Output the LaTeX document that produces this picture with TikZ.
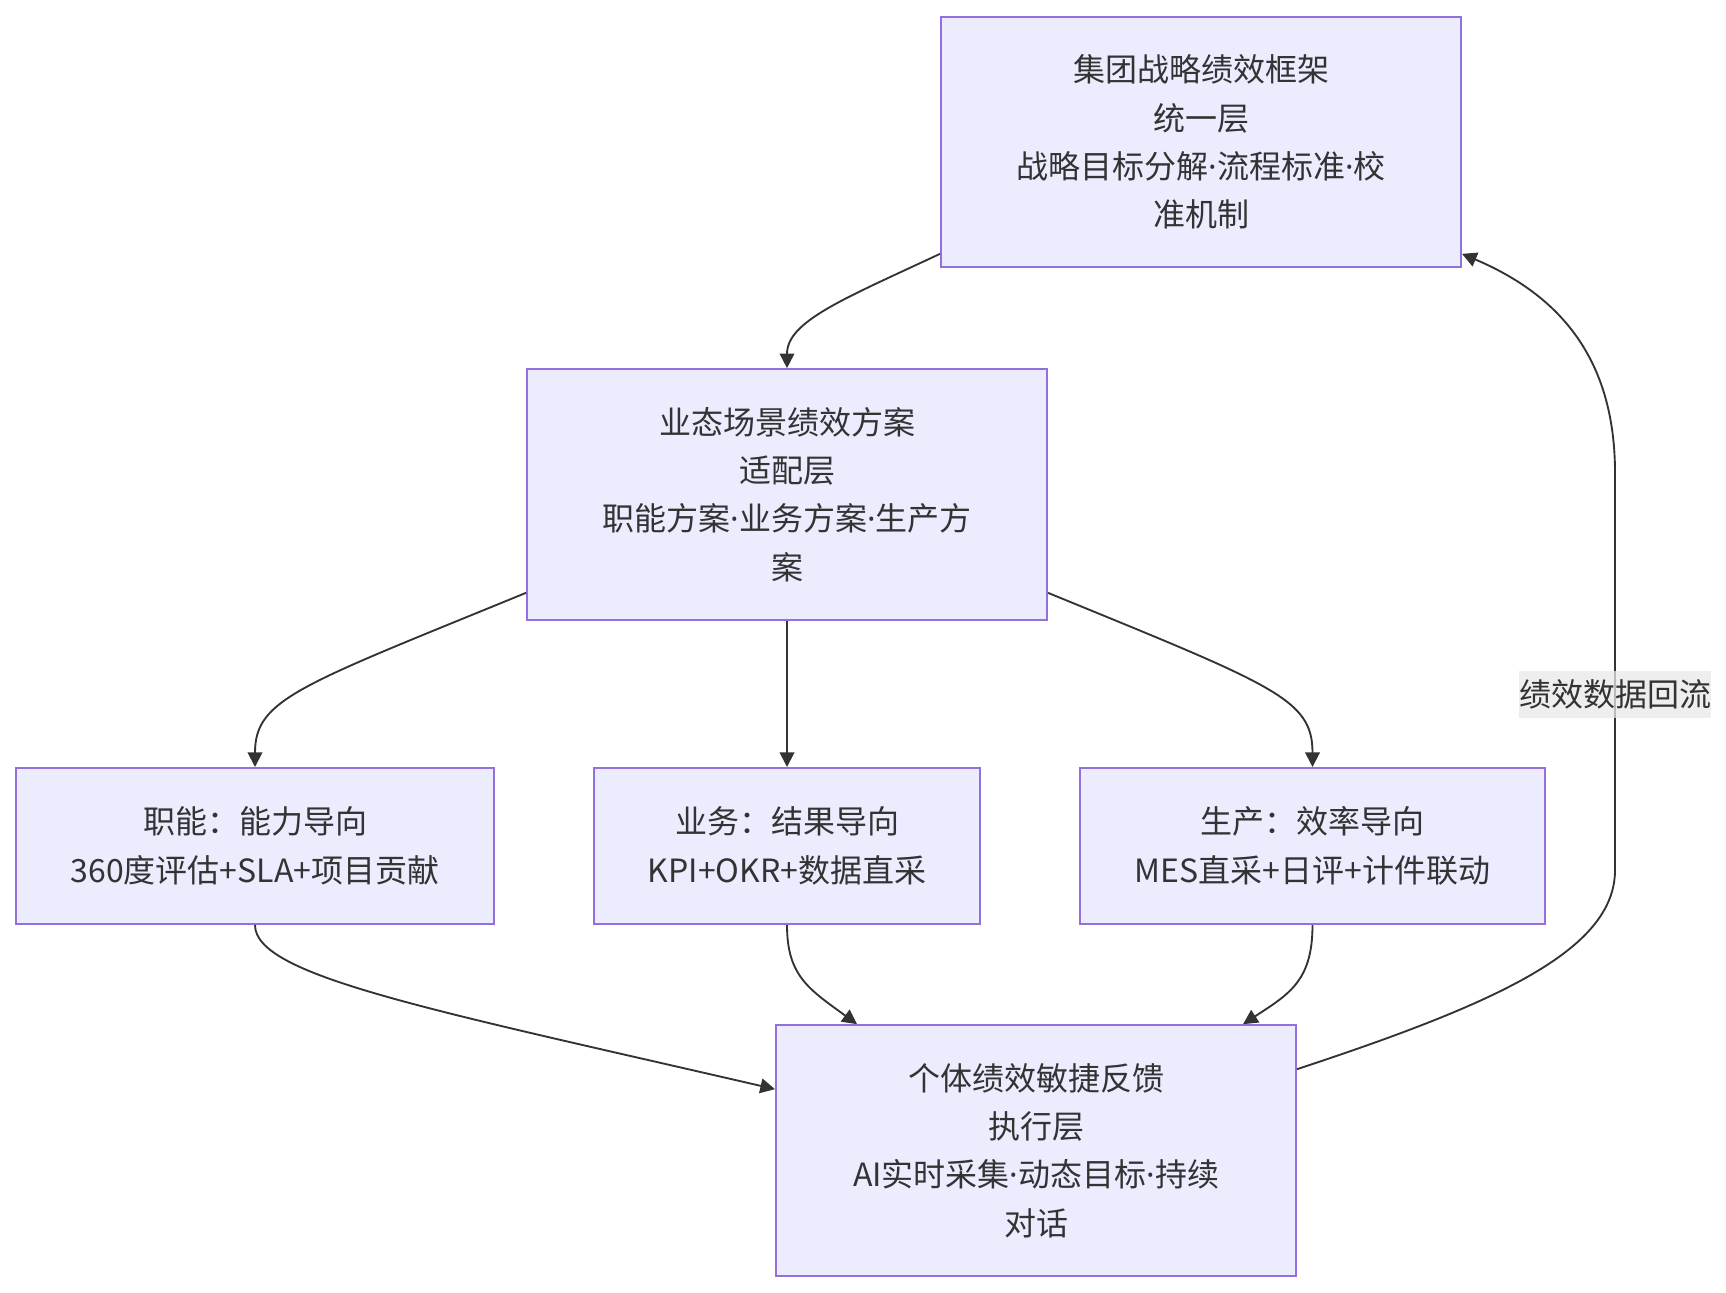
\documentclass[tikz,border=0pt]{standalone}
\usepackage{fontspec}
\newfontfamily\cjk{Noto Sans CJK SC}
\newfontfamily\dotfont{Noto Sans}
\newcommand{\mdot}{{\dotfont ·}}
\usetikzlibrary{arrows.meta,calc}
\definecolor{boxfill}{HTML}{ECECFF}
\definecolor{boxline}{HTML}{9370DB}
\definecolor{ink}{HTML}{333333}
\definecolor{lblbg}{HTML}{E8E8E8}
\begin{document}
\begin{tikzpicture}[x=0.75pt,y=-0.75pt,
  box/.style={draw=boxline,fill=boxfill,line width=1.5pt,inner sep=0pt,
    align=center,text=ink,font=\cjk\fontsize{24}{36.3}\selectfont},
  bigbox/.style={box,minimum width=390pt,minimum height=188pt},
  midbox/.style={box,minimum height=117pt},
  edge/.style={draw=ink,line width=1.4pt,-{Triangle[length=11pt,width=11pt]}},
  lbl/.style={fill=lblbg,fill opacity=0.75,text opacity=1,text=ink,inner xsep=0pt,
    minimum height=35pt,font=\cjk\fontsize{24}{30}\selectfont}]
\useasboundingbox (0,0) rectangle (1726,1292);

\node[bigbox] (top) at (1201,142) {集团战略绩效框架\\统一层\\战略目标分解\mdot 流程标准\mdot 校\\准机制};
\node[bigbox] (mid) at (787,494.5) {业态场景绩效方案\\适配层\\职能方案\mdot 业务方案\mdot 生产方\\案};
\node[midbox,minimum width=358pt] (lft) at (255,846) {职能：能力导向\\360度评估+SLA+项目贡献};
\node[midbox,minimum width=289.5pt] (ctr) at (787,846) {业务：结果导向\\KPI+OKR+数据直采};
\node[midbox,minimum width=349pt] (rgt) at (1312.5,846) {生产：效率导向\\MES直采+日评+计件联动};
\node[bigbox] (bot) at (1036,1150.5) {个体绩效敏捷反馈\\执行层\\AI实时采集\mdot 动态目标\mdot 持续\\对话};

\path[edge] ($(top.south west)+(0,-14.5)$) .. controls +(-96,45) and +(0,-47) .. (mid.north);
\path[edge] ($(mid.south west)+(0,-28)$) .. controls +(-227,93) and +(0,-68) .. (lft.north);
\path[edge] (mid.south) -- (ctr.north);
\path[edge] ($(mid.south east)+(0,-28)$) .. controls +(227,93) and +(0,-68) .. (rgt.north);
\path[edge] (lft.south) .. controls +(0,51) and +(-346,-80) .. ($(bot.north west)+(0,65)$);
\path[edge] (ctr.south) .. controls +(0,51) and +(-48,-35) .. ($(bot.north west)+(82,0)$);
\path[edge] (rgt.south) .. controls +(0,56) and +(46,-30) .. ($(bot.north west)+(468,0)$);

\coordinate (r1) at (1615,870);
\coordinate (r2) at (1615,473);
\path[edge] ($(bot.north east)+(0,45)$) .. controls +(200,-66) and +(0,80) .. (r1)
  -- (r2) .. controls +(0,-113) and +(99,42) .. ($(top.south east)+(0,-14.5)$);
\node[lbl] (fb) at (1615,694.5) {绩效数据回流};
\end{tikzpicture}
\end{document}
